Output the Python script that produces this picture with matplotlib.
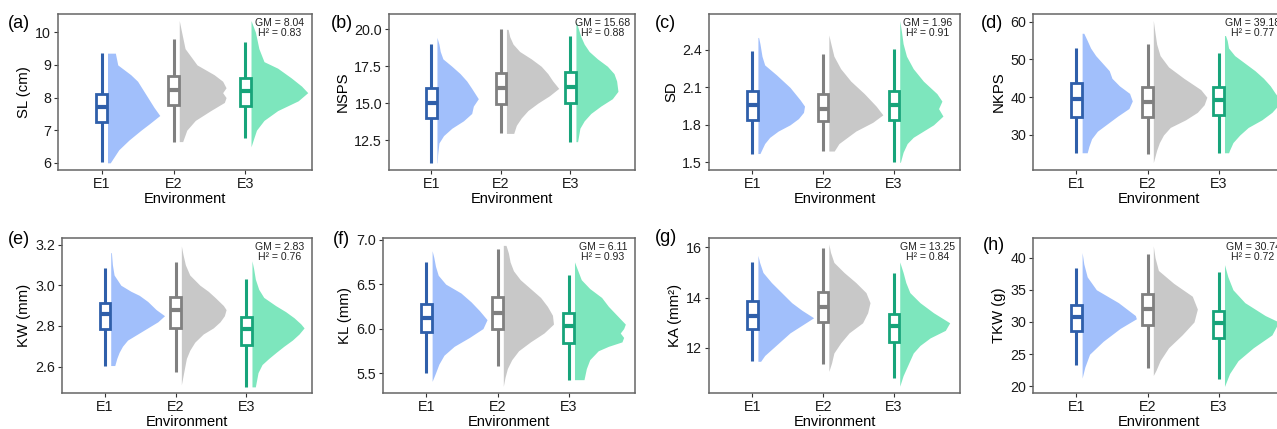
import matplotlib
matplotlib.use("Agg")
import matplotlib.pyplot as plt
from matplotlib.ticker import FormatStrFormatter

plt.rcParams['font.family'] = ['Liberation Sans', 'DejaVu Sans']

# ---------------- data ----------------
envs = ["E1", "E2", "E3"]
panel_tags = ["(a)", "(b)", "(c)", "(d)", "(e)", "(f)", "(g)", "(h)"]
ylabels = ["SL (cm)", "NSPS", "SD", "NKPS", "KW (mm)", "KL (mm)", "KA (mm²)", "TKW (g)"]
gm_values = ["8.04", "15.68", "1.96", "39.18", "2.83", "6.11", "13.25", "30.74"]
h2_values = ["0.83", "0.88", "0.91", "0.77", "0.76", "0.93", "0.84", "0.72"]
yticks_list = [[6, 7, 8, 9, 10], [12.5, 15.0, 17.5, 20.0], [1.5, 1.8, 2.1, 2.4], [30, 40, 50, 60],
               [2.6, 2.8, 3.0, 3.2], [5.5, 6.0, 6.5, 7.0], [12, 14, 16], [20, 25, 30, 35, 40]]
ytick_fmt = ["%d", "%.1f", "%.1f", "%d", "%.1f", "%.1f", "%d", "%d"]
ylims = [(5.78, 10.56), (10.47, 21.04), (1.438, 2.688), (20.74, 62.0),
         (2.470, 3.232), (5.275, 7.019), (10.21, 16.37), (18.98, 43.03)]

# box stats per environment: [whisker low, Q1, median, Q3, whisker high]
sl_box = [[6.01, 7.26, 7.70, 8.11, 9.36], [6.65, 7.77, 8.23, 8.66, 9.79], [6.75, 7.75, 8.21, 8.59, 9.71]]
nsps_box = [[10.96, 13.97, 14.99, 16.0, 19.01], [12.95, 14.94, 16.0, 17.02, 20.0], [12.39, 15.03, 16.07, 17.09, 19.55]]
sd_box = [[1.57, 1.84, 1.96, 2.07, 2.39], [1.59, 1.83, 1.93, 2.05, 2.37], [1.50, 1.84, 1.96, 2.07, 2.405]]
nkps_box = [[25.3, 34.85, 39.5, 43.7, 53.1], [25.1, 34.7, 38.8, 42.6, 54.1], [25.3, 35.3, 39.3, 42.6, 51.6]]
kw_box = [[2.605, 2.785, 2.857, 2.911, 3.086], [2.575, 2.788, 2.878, 2.943, 3.112], [2.50, 2.706, 2.785, 2.845, 3.03]]
kl_box = [[5.50, 5.96, 6.12, 6.276, 6.75], [5.575, 6.0, 6.175, 6.36, 6.90], [5.425, 5.84, 6.025, 6.18, 6.60]]
ka_box = [[11.47, 12.76, 13.26, 13.85, 15.42], [11.36, 13.03, 13.63, 14.23, 15.97], [10.81, 12.24, 12.86, 13.35, 14.98]]
tkw_box = [[23.35, 28.6, 30.82, 32.63, 38.3], [22.8, 29.5, 31.96, 34.3, 40.6], [21.2, 27.5, 29.8, 31.7, 37.7]]

# half-violin outlines: y levels and relative density widths
sl_vy = [[9.36, 9.0, 8.7, 8.5, 8.2, 8.0, 7.7, 7.45, 7.2, 7.0, 6.7, 6.4, 6.0],
         [10.36, 10.0, 9.5, 9.0, 8.7, 8.5, 8.3, 8.15, 8.0, 7.85, 7.6, 7.3, 7.0, 6.65],
         [10.36, 10.0, 9.5, 9.1, 8.9, 8.6, 8.35, 8.15, 7.9, 7.6, 7.3, 7.0, 6.75, 6.49]]
sl_vw = [[23, 30, 68, 88, 106, 118, 136, 153, 123, 98, 63, 33, 8],
         [0, 7, 17, 52, 102, 127, 137, 127, 137, 132, 92, 47, 22, 10],
         [0, 13, 23, 38, 78, 118, 148, 166, 138, 78, 38, 16, 8, 0]]

nsps_vy = [[19.46, 19.0, 18.5, 18.0, 17.5, 17.0, 16.5, 16.0, 15.3, 14.8, 14.3, 13.8, 13.3, 12.8, 12.3, 11.5, 10.96],
           [20.0, 19.5, 19.0, 18.5, 18.0, 17.5, 17.0, 16.5, 16.0, 15.5, 15.0, 14.5, 14.0, 13.5, 12.95],
           [20.56, 20.0, 19.5, 19.0, 18.5, 18.0, 17.5, 17.0, 16.5, 15.8, 15.3, 14.8, 14.3, 13.8, 13.3, 12.39]]
nsps_vw = [[0, 6, 10, 18, 45, 70, 90, 105, 125, 110, 105, 80, 45, 20, 6, 2, 1],
           [5, 10, 20, 40, 75, 105, 125, 140, 158, 130, 95, 65, 45, 30, 22],
           [0, 8, 15, 25, 40, 65, 95, 115, 123, 127, 110, 75, 45, 25, 12, 5]]

sd_vy = [[2.50, 2.45, 2.35, 2.28, 2.2, 2.15, 2.1, 2.05, 2.0, 1.95, 1.9, 1.85, 1.8, 1.75, 1.7, 1.65, 1.57],
         [2.52, 2.45, 2.35, 2.25, 2.15, 2.05, 1.95, 1.88, 1.82, 1.75, 1.7, 1.65, 1.59],
         [2.635, 2.55, 2.45, 2.35, 2.25, 2.15, 2.1, 2.05, 1.99, 1.93, 1.87, 1.8, 1.75, 1.7, 1.65, 1.58, 1.50]]
sd_vw = [[2, 6, 12, 20, 55, 75, 95, 110, 125, 138, 135, 120, 95, 60, 35, 20, 6],
         [0, 6, 15, 35, 65, 105, 140, 160, 130, 80, 55, 30, 16],
         [0, 5, 10, 20, 40, 70, 90, 110, 125, 115, 128, 100, 70, 40, 22, 10, 2]]

nkps_vy = [[56.9, 55, 53, 51, 49, 47, 45, 43, 41, 39, 37, 35, 33, 31, 29, 27, 25.3],
           [60.3, 57, 54, 51, 48, 45, 42, 40, 38, 36, 34, 32, 30, 28, 26, 24, 22.7],
           [56.3, 55, 53, 51, 49, 47, 45, 43, 41, 39.5, 38, 36, 34, 32, 30, 28, 26, 25.3]]
nkps_vw = [[5, 15, 25, 40, 60, 80, 88, 110, 140, 148, 138, 105, 75, 45, 28, 20, 15],
           [0, 5, 10, 20, 45, 90, 140, 158, 150, 130, 95, 50, 30, 18, 10, 4, 0],
           [3, 8, 12, 30, 60, 90, 115, 135, 150, 163, 160, 140, 110, 70, 45, 25, 15, 12]]

kw_vy = [[3.16, 3.10, 3.05, 3.00, 2.97, 2.95, 2.92, 2.88, 2.85, 2.82, 2.79, 2.76, 2.73, 2.70, 2.67, 2.64, 2.605],
         [3.193, 3.15, 3.10, 3.05, 3.00, 2.97, 2.94, 2.90, 2.88, 2.85, 2.82, 2.79, 2.76, 2.72, 2.68, 2.64, 2.58, 2.51],
         [3.12, 3.08, 3.03, 2.98, 2.94, 2.90, 2.87, 2.84, 2.81, 2.79, 2.76, 2.73, 2.70, 2.67, 2.64, 2.61, 2.57, 2.50]]
kw_vw = [[2, 5, 10, 30, 60, 85, 110, 135, 160, 140, 110, 80, 50, 35, 25, 18, 12],
         [0, 5, 12, 25, 55, 80, 100, 125, 133, 128, 115, 95, 65, 40, 25, 15, 8, 0],
         [0, 5, 10, 20, 35, 70, 100, 125, 145, 155, 140, 120, 95, 72, 50, 30, 18, 10]]

kl_vy = [[6.876, 6.8, 6.7, 6.6, 6.5, 6.4, 6.3, 6.2, 6.1, 6.0, 5.9, 5.8, 5.7, 5.6, 5.5, 5.406],
         [6.936, 6.85, 6.75, 6.65, 6.55, 6.45, 6.35, 6.25, 6.15, 6.05, 5.95, 5.85, 5.75, 5.65, 5.55, 5.45, 5.35],
         [6.75, 6.65, 6.55, 6.45, 6.35, 6.25, 6.15, 6.05, 6.0, 5.95, 5.9, 5.85, 5.8, 5.75, 5.65, 5.55, 5.425]]
kl_vw = [[0, 5, 10, 18, 40, 85, 115, 140, 162, 150, 110, 65, 35, 20, 10, 0],
         [8, 15, 20, 30, 50, 80, 110, 130, 145, 148, 120, 80, 45, 25, 12, 5, 0],
         [0, 10, 20, 45, 80, 100, 125, 150, 145, 135, 145, 140, 100, 70, 45, 35, 28]]

ka_vy = [[15.68, 15.4, 15.0, 14.6, 14.2, 13.8, 13.5, 13.2, 12.9, 12.6, 12.3, 12.0, 11.7, 11.47],
         [16.13, 15.8, 15.4, 15.0, 14.6, 14.2, 13.8, 13.4, 13.0, 12.6, 12.2, 11.8, 11.4, 11.07],
         [15.42, 15.0, 14.6, 14.2, 13.8, 13.4, 13.0, 12.7, 12.4, 12.1, 11.8, 11.5, 11.2, 10.9, 10.48]]
ka_vw = [[0, 5, 15, 40, 70, 100, 130, 165, 130, 95, 70, 45, 20, 8],
         [0, 5, 15, 45, 80, 110, 122, 115, 100, 60, 35, 15, 8, 0],
         [0, 10, 18, 30, 60, 100, 148, 135, 90, 60, 40, 30, 20, 10, 0]]

tkw_vy = [[40.77, 39, 37, 35, 33, 31, 30.5, 29, 27, 25, 23, 21.3],
          [41.8, 40, 38, 36, 34, 32, 30, 28, 26, 24, 22.5, 21.7],
          [38.9, 37, 35, 33, 31, 30, 28, 26, 24, 22, 20.0]]
tkw_vw = [[0, 5, 15, 42, 107, 157, 160, 112, 62, 22, 8, 0],
          [0, 5, 15, 60, 115, 130, 120, 85, 45, 20, 8, 0],
          [0, 10, 25, 60, 120, 160, 140, 85, 40, 15, 0]]

boxes = [sl_box, nsps_box, sd_box, nkps_box, kw_box, kl_box, ka_box, tkw_box]
vys = [sl_vy, nsps_vy, sd_vy, nkps_vy, kw_vy, kl_vy, ka_vy, tkw_vy]
vws = [sl_vw, nsps_vw, sd_vw, nkps_vw, kw_vw, kl_vw, ka_vw, tkw_vw]

# ---------------- style ----------------
box_colors = ["#2f5faa", "#808080", "#17a47a"]
violin_colors = ["#a1bffb", "#c8c8c8", "#7de6bd"]
W, H = 1277, 429
# axes rectangles in pixels: left, top, right, bottom
rects = [(58, 14, 312, 170), (389, 14, 635, 170), (709, 14, 960, 170), (1033, 14, 1285, 170),
         (62, 238, 312, 393), (383, 238, 635, 393), (709, 238, 960, 393), (1033, 238, 1285, 393)]
tag_pos = [(8, 23), (331, 23), (655, 23), (981, 23), (8, 239), (333, 239), (655, 238), (983, 245)]
WSCALE = 1.0 / 210.0
V_OFF = 0.08
BOX_W = 0.15

fig = plt.figure(figsize=(W / 100, H / 100), dpi=100)

for i in range(8):
    l, t, r, b = rects[i]
    ax = fig.add_axes([l / W, 1 - b / H, (r - l) / W, (b - t) / H])
    xs = [1, 2, 3]
    for j in range(3):
        x0 = xs[j] + V_OFF
        vy = vys[i][j]
        vw = [w * WSCALE for w in vws[i][j]]
        ax.fill_betweenx(vy, x0, [x0 + w for w in vw], color=violin_colors[j],
                         linewidth=0, zorder=1)
        lo, q1, med, q3, hi = boxes[i][j]
        st = [{"whislo": lo, "q1": q1, "med": med, "q3": q3, "whishi": hi, "fliers": []}]
        c = box_colors[j]
        ax.bxp(st, positions=[xs[j]], widths=BOX_W, patch_artist=True,
               showcaps=False, showfliers=False,
               boxprops=dict(facecolor="white", edgecolor=c, linewidth=2.0),
               whiskerprops=dict(color=c, linewidth=2.2, solid_capstyle="butt"),
               medianprops=dict(color=c, linewidth=3.0, solid_capstyle="butt"),
               zorder=3)
    ax.set_xlim(0.39, 3.93)
    ax.set_ylim(*ylims[i])
    ax.set_xticks(xs)
    ax.set_xticklabels(envs)
    ax.set_yticks(yticks_list[i])
    ax.yaxis.set_major_formatter(FormatStrFormatter(ytick_fmt[i]))
    ax.tick_params(axis="both", labelsize=10.3, length=3, width=0.8, color="#333333",
                   labelcolor="#1a1a1a", pad=2)
    for s in ax.spines.values():
        s.set_color("#666666")
        s.set_linewidth(1.1)
    ax.set_xlabel("Environment", fontsize=10.5, labelpad=1, color="black")
    ax.set_ylabel(ylabels[i], fontsize=10.7, labelpad=3, color="black")
    axw = r - l
    axh = b - t
    ax.text(1 - 32 / axw, 1 - 4 / axh, "GM = " + gm_values[i] + "\nH² = " + h2_values[i],
            transform=ax.transAxes, ha="center", va="top", fontsize=7.6,
            color="#222222", linespacing=0.95, zorder=5)
    fig.text(tag_pos[i][0] / W, 1 - tag_pos[i][1] / H, panel_tags[i], fontsize=13,
             ha="left", va="center", color="black")

fig.savefig("out.png", dpi=100)
